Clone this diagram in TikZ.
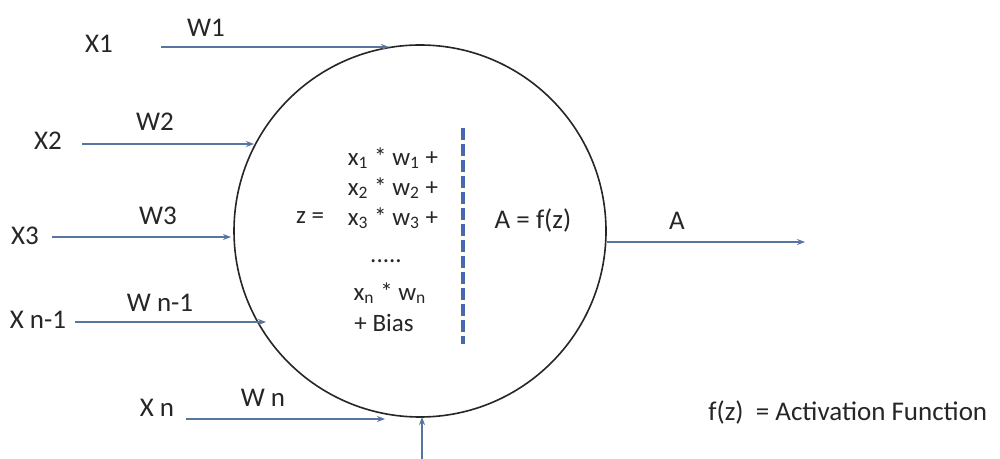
\documentclass[tikz,border=0pt]{standalone}
\usepackage{fontspec}
\setmainfont{Carlito}
\usetikzlibrary{arrows.meta}
\definecolor{arrcol}{RGB}{88,116,160}
\definecolor{dashcol}{RGB}{70,105,175}
\begin{document}
\begin{tikzpicture}[x=0.5pt,y=-0.5pt,
  lbl/.style={font=\fontsize{13.5}{15}\selectfont, inner sep=0pt, text=black!85},
  eq/.style={font=\fontsize{12.5}{14}\selectfont, inner sep=0pt, text=black!85},
  inarrow/.style={draw=arrcol, line width=0.7pt, -{Stealth[length=4pt,width=3pt]}},
  neuronstyle/.style={draw=black!85, line width=0.8pt, circle, minimum size=372*0.5pt, inner sep=0pt}]
\useasboundingbox (0,0) rectangle (1000,459);
\fill[white] (0,0) rectangle (1000,459);
\node[neuronstyle] (neuron) at (420,231) {};
% input labels
\node[lbl] (x1) at (99,44) {X1};
\node[lbl] (w1) at (206,28) {W1};
\node[lbl] (x2) at (48,141) {X2};
\node[lbl] (w2) at (155,122) {W2};
\node[lbl] (x3) at (25,236) {X3};
\node[lbl] (w3) at (158,216) {W3};
\node[lbl] (xn1) at (38,320) {X n-1};
\node[lbl] (wn1) at (160,303) {W n-1};
\node[lbl] (xn) at (157,408) {X n};
\node[lbl] (wn) at (263,398) {W n};
% arrow coordinates
\coordinate (s1) at (161,47);  \coordinate (e1) at (389,47);
\coordinate (s2) at (82,144);  \coordinate (e2) at (254,144);
\coordinate (s3) at (52,237);  \coordinate (e3) at (231,237);
\coordinate (s4) at (75,322);  \coordinate (e4) at (266,322);
\coordinate (s5) at (186,419); \coordinate (e5) at (385,419);
\coordinate (sb) at (422,459); \coordinate (eb) at (422,417);
\coordinate (so) at (607,242); \coordinate (eo) at (805,242);
\draw[inarrow] (s1) -- (e1);
\draw[inarrow] (s2) -- (e2);
\draw[inarrow] (s3) -- (e3);
\draw[inarrow] (s4) -- (e4);
\draw[inarrow] (s5) -- (e5);
\draw[inarrow] (sb) -- (eb);
\draw[inarrow] (so) -- (eo);
% dashed divider
\coordinate (d1) at (463,128); \coordinate (d2) at (463,344);
\draw[dashcol, line width=1.6pt, dash pattern=on 6pt off 2pt] (d1) -- (d2);
% equation
\node[eq] (l1) at (393,158) {x\textsubscript{1} * w\textsubscript{1} +};
\node[eq] (l2) at (393,188) {x\textsubscript{2} * w\textsubscript{2} +};
\node[eq] (l3) at (393,218) {x\textsubscript{3} * w\textsubscript{3} +};
\node[eq] (z) at (310,218) {z =};
\node[eq] (l4) at (386,261) {.....};
\node[eq] (l5) at (390,293) {x\textsubscript{n} * w\textsubscript{n}};
\node[eq] (l6) at (384,323) {+ Bias};
\node[lbl] (af) at (533,220) {A = f(z)};
\node[lbl] (a) at (677,221) {A};
\node[lbl, anchor=west] (act) at (708,412) {f(z)\ \ = Activation Function};
\end{tikzpicture}
\end{document}
